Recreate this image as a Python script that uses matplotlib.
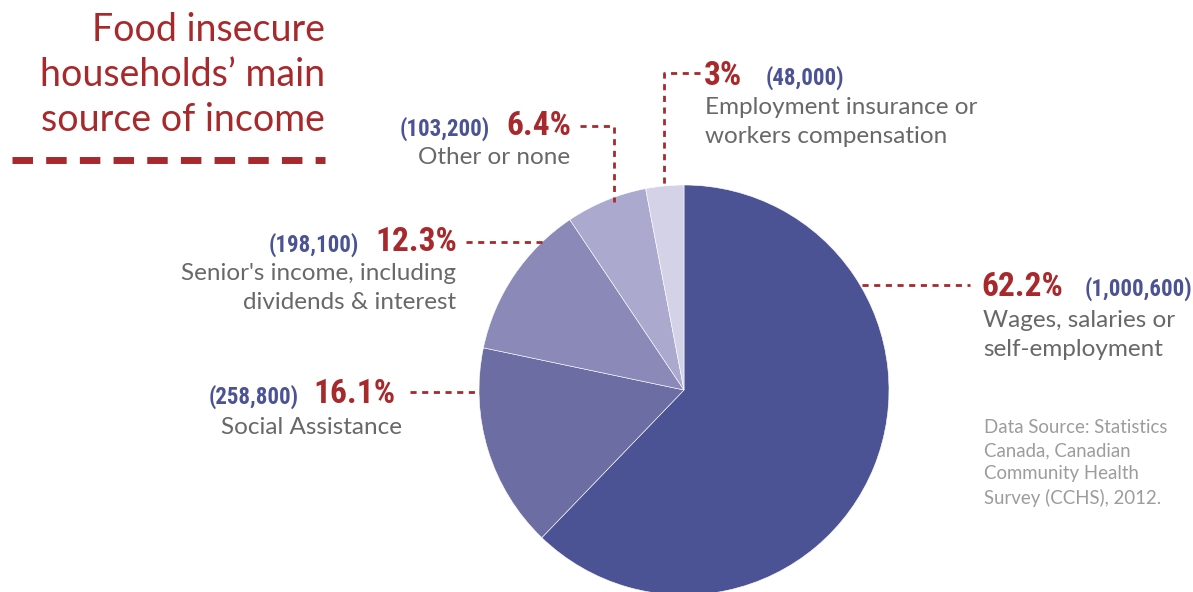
import matplotlib
matplotlib.use("Agg")
import matplotlib.pyplot as plt

categories = ["Wages, salaries or\nself-employment", "Social Assistance",
              "Senior's income, including\ndividends & interest", "Other or none",
              "Employment insurance or\nworkers compensation"]
percents = [62.2, 16.1, 12.3, 6.4, 3.0]
pct_labels = ["62.2%", "16.1%", "12.3%", "6.4%", "3%"]
counts = ["(1,000,600)", "(258,800)", "(198,100)", "(103,200)", "(48,000)"]
colors = ["#4B5394", "#6C6DA3", "#8B89B8", "#ABA9CE", "#D3D2E6"]

RED = "#A8292C"
BLUE = "#4B5394"
GRAY = "#686868"
LIGHTGRAY = "#9C9C9C"

W, H = 1193, 592
fig = plt.figure(figsize=(W / 100, H / 100), dpi=100)
ax = fig.add_axes([0, 0, 1, 1])

def Y(y):
    return H - y

num_family = ["Roboto Condensed", "DejaVu Sans"]
lab_family = ["Lato", "DejaVu Sans"]

cx, cy, r = 684, 390, 205
ax.pie(percents, colors=colors, startangle=90, counterclock=False,
       center=(cx, Y(cy)), radius=r, frame=True,
       wedgeprops=dict(edgecolor="white", linewidth=0.4))
ax.set_xlim(0, W)
ax.set_ylim(0, H)
ax.set_aspect("equal")
ax.axis("off")

# Title
title_lines = ["Food insecure", "households\u2019 main", "source of income"]
for i, t in enumerate(title_lines):
    ax.text(325, Y(30 + i * 45), t, ha="right", va="center", color=RED,
            fontsize=27, family=lab_family, fontweight="normal")
ax.plot([12, 325], [Y(160), Y(160)], color=RED, lw=5, linestyle=(0, (2.95, 1.9)),
        solid_capstyle="butt", dash_capstyle="butt")

dash = dict(color=RED, lw=2.0, linestyle=(0, (2.2, 2.0)))
pct_kw = dict(color=RED, fontsize=24, fontweight="bold", family=num_family, va="center")
cnt_kw = dict(color=BLUE, fontsize=16.5, fontweight="bold", family=num_family, va="center")
lab_kw = dict(color=GRAY, fontsize=17.5, family=lab_family, va="center", linespacing=1.5)

# Wages
ax.plot([862, 970], [Y(285), Y(285)], **dash)
ax.text(981, Y(287), pct_labels[0], ha="left", **pct_kw)
ax.text(1085, Y(289), counts[0], ha="left", **cnt_kw)
ax.text(983, Y(335), categories[0], ha="left", **lab_kw)

# Social assistance
ax.plot([410, 480], [Y(392), Y(392)], **dash)
ax.text(396, Y(394), pct_labels[1], ha="right", **pct_kw)
ax.text(299, Y(397), counts[1], ha="right", **cnt_kw)
ax.text(402, Y(427), categories[1], ha="right", **lab_kw)

# Senior's income
ax.plot([466, 546], [Y(242), Y(242)], **dash)
ax.text(457, Y(242), pct_labels[2], ha="right", **pct_kw)
ax.text(359, Y(245), counts[2], ha="right", **cnt_kw)
ax.text(456, Y(288), categories[2], ha="right", multialignment="right", **lab_kw)

# Other or none
ax.plot([580, 614, 614], [Y(126), Y(126), Y(202)], **dash)
ax.text(571, Y(126), pct_labels[3], ha="right", **pct_kw)
ax.text(490, Y(129), counts[3], ha="right", **cnt_kw)
ax.text(570, Y(157), categories[3], ha="right", **lab_kw)

# Employment insurance
ax.plot([700, 664, 664], [Y(73), Y(73), Y(188)], **dash)
ax.text(704, Y(76), pct_labels[4], ha="left", **pct_kw)
ax.text(766, Y(78), counts[4], ha="left", **cnt_kw)
ax.text(705, Y(122), categories[4], ha="left", **lab_kw)

# Source
ax.text(984, Y(463), "Data Source: Statistics\nCanada, Canadian\nCommunity Health\nSurvey (CCHS), 2012.",
        ha="left", va="center", color=LIGHTGRAY, fontsize=13.4, family=lab_family,
        linespacing=1.42)

fig.savefig("out.png", dpi=100)
